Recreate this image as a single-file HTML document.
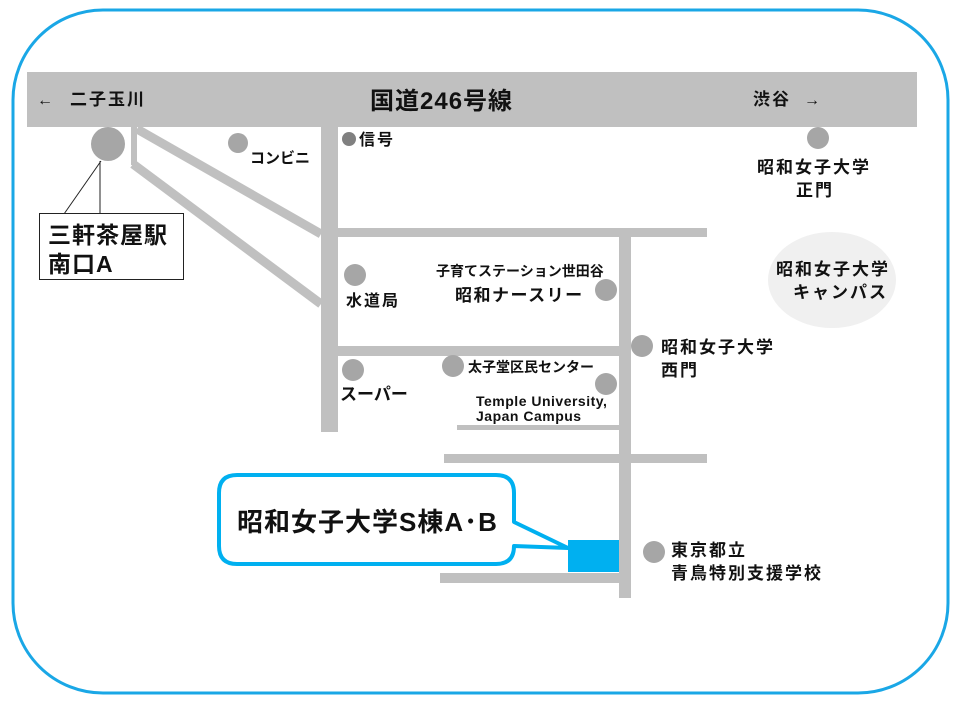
<!DOCTYPE html>
<html><head><meta charset="utf-8"><style>
body{margin:0;background:#fff}
svg text{font-family:"Liberation Sans","Noto Sans CJK JP",sans-serif;font-weight:bold;fill:#111}
</style></head><body>
<svg width="960" height="720" viewBox="0 0 960 720" xmlns="http://www.w3.org/2000/svg">
<rect x="13" y="10" width="935" height="683" rx="90" fill="#fff" stroke="#1aa7e6" stroke-width="3"/>
<g fill="#c0c0c0">
<rect x="27" y="72" width="890" height="55"/>
<rect x="321" y="127" width="17" height="305"/>
<rect x="338" y="228" width="369" height="9"/>
<rect x="338" y="346" width="282" height="10"/>
<rect x="619" y="237" width="12" height="361"/>
<rect x="457" y="425" width="163" height="5"/>
<rect x="444" y="454" width="263" height="9"/>
<rect x="440" y="573" width="180" height="10"/>
<rect x="131" y="127" width="6" height="38"/>
</g>
<g stroke="#c0c0c0" stroke-width="9">
<line x1="137" y1="129" x2="321" y2="234"/>
<line x1="133" y1="164" x2="321" y2="304"/>
</g>
<circle cx="108" cy="144" r="17" fill="#a6a6a6"/>
<line x1="101" y1="161" x2="64" y2="214" stroke="#222" stroke-width="1"/>
<line x1="100" y1="161" x2="100" y2="214" stroke="#222" stroke-width="1"/>
<rect x="39.5" y="213.5" width="144" height="66" fill="#fff" stroke="#222" stroke-width="1"/>
<text x="48" y="243" font-size="23" letter-spacing="1">三軒茶屋駅</text>
<text x="48" y="272" font-size="23" letter-spacing="1">南口A</text>
<g fill="#a6a6a6">
<circle cx="238" cy="143" r="10"/>
<circle cx="355" cy="275" r="11"/>
<circle cx="353" cy="370" r="11"/>
<circle cx="453" cy="366" r="11"/>
<circle cx="606" cy="290" r="11"/>
<circle cx="606" cy="384" r="11"/>
<circle cx="642" cy="346" r="11"/>
<circle cx="654" cy="552" r="11"/>
<circle cx="818" cy="138" r="11"/>
</g>
<circle cx="349" cy="139" r="7" fill="#808080"/>
<ellipse cx="832" cy="280" rx="64" ry="48" fill="#f0f0f0"/>
<text x="37" y="105" font-size="16">←</text>
<text x="70" y="105" font-size="17" letter-spacing="2">二子玉川</text>
<text x="370" y="109" font-size="24" letter-spacing="1">国道246号線</text>
<text x="753" y="105" font-size="17" letter-spacing="2">渋谷</text>
<text x="804" y="105" font-size="16">→</text>
<text x="250" y="163" font-size="15">コンビニ</text>
<text x="359" y="145" font-size="16" letter-spacing="2">信号</text>
<text x="757" y="173" font-size="17" letter-spacing="2">昭和女子大学</text>
<text x="796" y="196" font-size="17" letter-spacing="2">正門</text>
<text x="776" y="275" font-size="17" letter-spacing="2">昭和女子大学</text>
<text x="793" y="298" font-size="17" letter-spacing="2">キャンパス</text>
<text x="346" y="306" font-size="16" letter-spacing="2">水道局</text>
<text x="436" y="276" font-size="14">子育てステーション世田谷</text>
<text x="455" y="301" font-size="17" letter-spacing="1.5">昭和ナースリー</text>
<text x="661" y="353" font-size="17" letter-spacing="2">昭和女子大学</text>
<text x="661" y="376" font-size="17" letter-spacing="2">西門</text>
<text x="340" y="400" font-size="17">スーパー</text>
<text x="468" y="372" font-size="14">太子堂区民センター</text>
<text x="476" y="406" font-size="14" letter-spacing="0.5">Temple University,</text>
<text x="476" y="421" font-size="14" letter-spacing="0.5">Japan Campus</text>
<text x="671" y="556" font-size="17" letter-spacing="2">東京都立</text>
<text x="671" y="579" font-size="17" letter-spacing="2">青鳥特別支援学校</text>
<rect x="568" y="540" width="51" height="32" fill="#00b0f0"/>
<path d="M237 475 H496 Q514 475 514 493 V522 L568 548 L514 546 V546 Q514 564 496 564 H237 Q219 564 219 546 V493 Q219 475 237 475 Z" fill="#fff" stroke="#00b0f0" stroke-width="4" stroke-linejoin="round"/>
<text x="237" y="531" font-size="26" letter-spacing="1">昭和女子大学S棟A･B</text>
</svg>
</body></html>
